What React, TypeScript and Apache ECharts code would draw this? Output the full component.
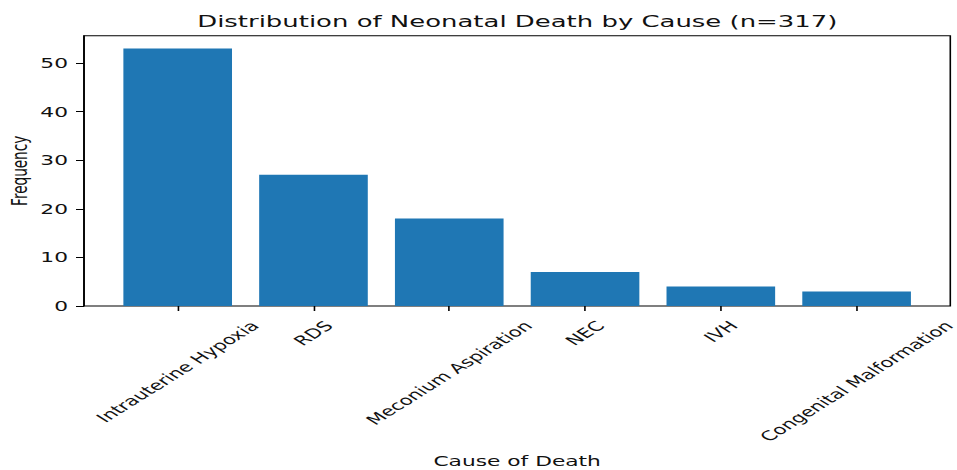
import React, { useEffect, useRef } from "react";
import * as echarts from "echarts";

// ---- data ----
const causes = [
  "Intrauterine Hypoxia",
  "RDS",
  "Meconium Aspiration",
  "NEC",
  "IVH",
  "Congenital Malformation",
];
const frequencies = [53, 27, 18, 7, 4, 3];
const yTicks = [0, 10, 20, 30, 40, 50];
const titleText = "Distribution of Neonatal Death by Cause (n=317)";
const xAxisName = "Cause of Death";
const yAxisName = "Frequency";

// ---- layout (the reference is stretched horizontally) ----
const W = 598;
const H = 470;
const SX = 957 / W;
const FONT = "DejaVu Sans";
const TICK_FS = 13.6;
const XLABEL_FS = 13.3;
const TITLE_FS = 16.2;
const LINE_H = 14;
const TEXT_COLOR = "#111";
const LABEL_MARGIN = 12;
const LABEL_DROP = 17.5;

export default function App() {
  const ref = useRef<HTMLDivElement>(null);

  useEffect(() => {
    document.body.style.margin = "0";
    const el = ref.current!;
    const chart = echarts.init(el, null, { renderer: "svg" });

    // per-label offsets so that each rotated label is centred on its tick,
    // with its top just below the axis (like matplotlib's ha="center")
    const ctx = document.createElement("canvas").getContext("2d")!;
    ctx.font = `${XLABEL_FS}px "${FONT}"`;
    const k = Math.SQRT1_2 * (LABEL_DROP - LABEL_MARGIN);
    const rich: Record<string, any> = {};
    causes.forEach((c, i) => {
      const w = ctx.measureText(c).width;
      const m = w / 4 + k;
      const padT = Math.max(0, 2 * m - LINE_H);
      const spacer = Math.max(0, w / 2 + 2 * k);
      rich["c" + i] = {
        padding: [padT, 0, 0, 0],
        fontSize: XLABEL_FS,
        fontFamily: FONT,
        color: TEXT_COLOR,
        lineHeight: LINE_H,
      };
      rich["s" + i] = {
        width: spacer,
        fontSize: XLABEL_FS,
        fontFamily: FONT,
        color: TEXT_COLOR,
        lineHeight: LINE_H,
      };
    });
    ctx.font = `${TITLE_FS}px "${FONT}"`;
    const titleW = ctx.measureText(titleText).width;

    const plotL = 84 / SX;
    const plotR = 950.3 / SX;
    const plotT = 35.7;
    const plotB = 306;
    const xMin = -0.69;
    const xMax = 5.69;
    const pxPerUnit = (plotR - plotL) / (xMax - xMin);
    const bandL = plotL + (-0.5 - xMin) * pxPerUnit;
    const bandR = plotL + (causes.length - 0.5 - xMin) * pxPerUnit;
    const yMax = Math.max(...frequencies) * 1.05;
    const barW = 0.8 * pxPerUnit;

    chart.setOption({
      animation: false,
      backgroundColor: "#fff",
      title: {
        text: titleText,
        left: (plotL + plotR) / 2 - titleW / 2,
        top: 13,
        padding: 0,
        textStyle: {
          fontFamily: FONT,
          fontSize: TITLE_FS,
          fontWeight: "normal",
          color: TEXT_COLOR,
        },
      },
      grid: [
        {
          left: plotL,
          right: W - plotR,
          top: plotT,
          bottom: H - plotB,
          containLabel: false,
          outerBoundsMode: "none",
          show: true,
          borderColor: "#000",
          borderWidth: 1,
          backgroundColor: "transparent",
        },
        {
          left: bandL,
          right: W - bandR,
          top: plotT,
          bottom: H - plotB,
          containLabel: false,
          outerBoundsMode: "none",
          show: false,
        },
      ],
      xAxis: [
        {
          gridIndex: 0,
          type: "value",
          min: xMin,
          max: xMax,
          show: false,
        },
        {
          gridIndex: 1,
          type: "category",
          data: causes,
          name: xAxisName,
          nameLocation: "middle",
          nameGap: 148,
          nameMoveOverlap: false,
          nameTextStyle: { fontFamily: FONT, fontSize: TICK_FS, color: TEXT_COLOR },
          splitLine: { show: false },
          axisLine: { show: false },
          axisTick: {
            show: true,
            alignWithLabel: true,
            interval: 0,
            length: 5,
            lineStyle: { color: "#000", width: 1 },
          },
          axisLabel: {
            interval: 0,
            rotate: 45,
            align: "center",
            verticalAlign: "top",
            margin: LABEL_MARGIN,
            hideOverlap: false,
            fontFamily: FONT,
            fontSize: XLABEL_FS,
            color: TEXT_COLOR,
            formatter: (v: string, i: number) => `{c${i}|${v}}{s${i}| }`,
            rich,
          },
        },
      ],
      yAxis: [
        {
          gridIndex: 0,
          type: "value",
          min: 0,
          max: yMax,
          name: yAxisName,
          nameLocation: "middle",
          nameGap: 33.5,
          nameMoveOverlap: false,
          nameTextStyle: { fontFamily: FONT, fontSize: TICK_FS, color: TEXT_COLOR },
          splitLine: { show: false },
          axisLine: { show: true, onZero: false, lineStyle: { color: "#000", width: 1 } },
          axisTick: {
            show: true,
            customValues: yTicks,
            length: 5,
            lineStyle: { color: "#000", width: 1 },
          },
          axisLabel: {
            customValues: yTicks,
            margin: 10,
            fontFamily: FONT,
            fontSize: TICK_FS,
            color: TEXT_COLOR,
          },
        },
        {
          gridIndex: 1,
          type: "value",
          min: 0,
          max: yMax,
          show: false,
        },
      ],
      series: [
        {
          type: "bar",
          xAxisIndex: 1,
          yAxisIndex: 1,
          data: frequencies,
          barWidth: barW,
          itemStyle: { color: "#1f77b4" },
        },
      ],
    });

    return () => {
      chart.dispose();
    };
  }, []);

  return (
    <div
      ref={ref}
      style={{
        width: W,
        height: H,
        transform: `scaleX(${SX})`,
        transformOrigin: "0 0",
      }}
    />
  );
}
